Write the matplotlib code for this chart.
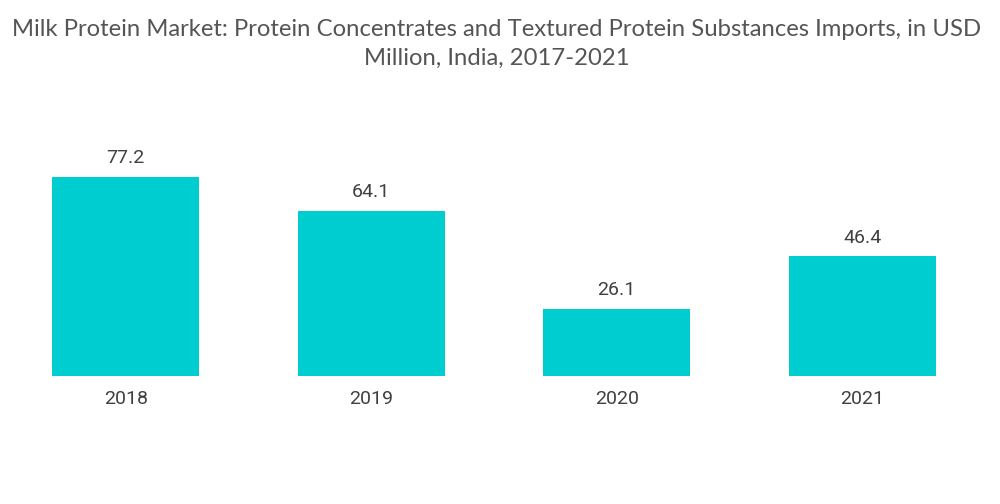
import matplotlib
matplotlib.use("Agg")
import matplotlib.pyplot as plt

years = ["2018", "2019", "2020", "2021"]
values = [77.2, 64.1, 26.1, 46.4]
value_labels = ["77.2", "64.1", "26.1", "46.4"]

fig = plt.figure(figsize=(10, 5.04), dpi=100)
ax = fig.add_axes([0.003, 0.254, 0.982, 0.508])
x = range(len(years))
ax.bar(x, values, width=0.6, color="#00CDD0")
for xi, v, lab in zip(x, values, value_labels):
    ax.annotate(lab, (xi, v), xytext=(0, 7), textcoords="offset points",
                ha="center", va="bottom", fontsize=14, color="#404040", family="Roboto")
ax.set_xlim(-0.5, 3.5)
ax.set_ylim(0, 99.3)
ax.set_xticks(list(x))
ax.set_xticklabels(years, fontsize=14, color="#404040", family="Roboto")
ax.tick_params(axis="x", length=0, pad=10)
ax.set_yticks([])
for s in ax.spines.values():
    s.set_visible(False)

fig.text(0.497, 0.962, "Milk Protein Market: Protein Concentrates and Textured Protein Substances Imports, in USD\nMillion, India, 2017-2021",
         ha="center", va="top", fontsize=17.2, color="#555555", family="Lato", linespacing=1.45)

fig.savefig("out.png", dpi=100)
